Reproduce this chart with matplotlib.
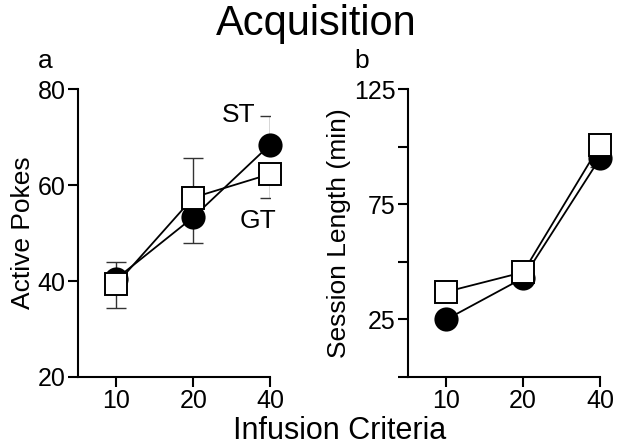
import numpy as np
import matplotlib.pyplot as plt

plt.rcParams['font.family'] = ['Liberation Sans', 'DejaVu Sans']

criteria = ['10', '20', '40']

# panel a: active pokes
st_pokes = [40.5, 53.3, 68.4]
st_pokes_lo = [0, 5.3, 0]
st_pokes_hi = [3.5, 0, 6.0]
gt_pokes = [39.4, 57.4, 62.3]
gt_pokes_lo = [5.0, 0, 5.0]
gt_pokes_hi = [0, 8.3, 0]

# panel b: session length (min)
st_session = [25.0, 43.0, 95.0]
st_session_lo = [0, 0, 4.0]
st_session_hi = [0, 0, 0]
gt_session = [37.0, 45.5, 100.7]
gt_session_lo = [0, 0, 0]
gt_session_hi = [0, 0, 0]

x = np.arange(len(criteria))

fig = plt.figure(figsize=(6.2, 4.47), dpi=100)
ax1 = fig.add_axes([0.1258, 0.1566, 0.3097, 0.644])
ax2 = fig.add_axes([0.658, 0.1566, 0.3097, 0.644])


def draw_series(ax, y, lo, hi, marker, face):
    ax.errorbar(x, y, yerr=[lo, hi], fmt='none', ecolor='#333333',
                elinewidth=1.0, capsize=7, capthick=1.0, zorder=1)
    ax.plot(x, y, color='black', lw=1.3, marker=marker, markersize=16,
            markerfacecolor=face, markeredgecolor='black', markeredgewidth=1.4,
            zorder=2, clip_on=False)


draw_series(ax1, st_pokes, st_pokes_lo, st_pokes_hi, 'o', 'black')
draw_series(ax1, gt_pokes, gt_pokes_lo, gt_pokes_hi, 's', 'white')
draw_series(ax2, st_session, st_session_lo, st_session_hi, 'o', 'black')
draw_series(ax2, gt_session, gt_session_lo, gt_session_hi, 's', 'white')

for ax in (ax1, ax2):
    ax.set_xlim(-0.5, 2)
    ax.set_xticks(x)
    ax.set_xticklabels(criteria)
    for s in ('top', 'right'):
        ax.spines[s].set_visible(False)
    for s in ('left', 'bottom'):
        ax.spines[s].set_linewidth(1.5)
    ax.tick_params(labelsize=18, width=1.5, length=7, pad=2)

ax1.set_ylim(20, 80)
ax1.set_yticks([20, 40, 60, 80])
ax1.set_ylabel('Active Pokes', fontsize=19, labelpad=2)

ax2.set_ylim(0, 125)
ax2.set_yticks([0, 25, 50, 75, 100, 125])
ax2.set_yticklabels(['', '25', '', '75', '', '125'])
ax2.set_ylabel('Session Length (min)', fontsize=19, labelpad=2)

ax1.text(1.805, 73.1, 'ST', fontsize=19, ha='right', va='baseline')
ax1.text(1.61, 51.0, 'GT', fontsize=19, ha='left', va='baseline')

fig.text(0.51, 0.922, 'Acquisition', fontsize=30, ha='center', va='baseline')
fig.text(0.073, 0.848, 'a', fontsize=19, ha='center', va='baseline')
fig.text(0.584, 0.848, 'b', fontsize=19, ha='center', va='baseline')
fig.text(0.547, 0.018, 'Infusion Criteria', fontsize=22, ha='center', va='baseline')

fig.savefig('out.png', dpi=100)
